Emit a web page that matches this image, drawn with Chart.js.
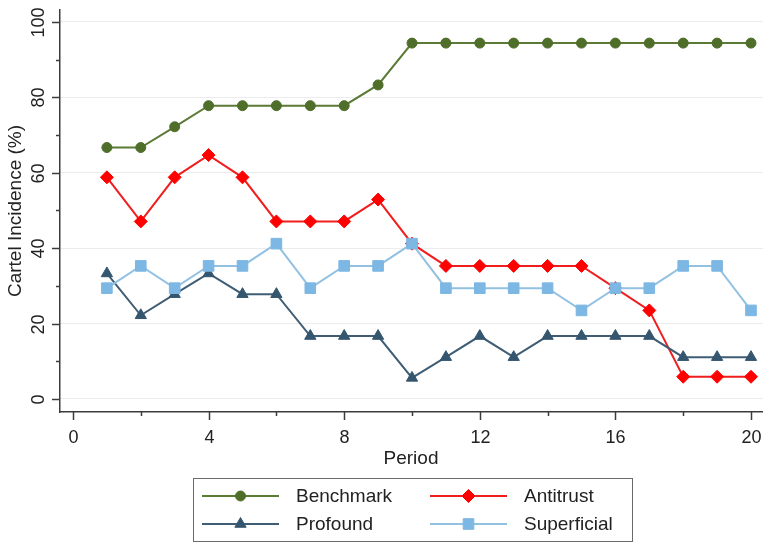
<!DOCTYPE html>
<html>
<head>
<meta charset="utf-8">
<script src="https://cdn.jsdelivr.net/npm/chart.js@4"></script>
<style>
  html, body { margin: 0; padding: 0; background: #fff; overflow: hidden; }
  canvas { display: block; }
</style>
</head>
<body>
<canvas id="cartelChart" width="763" height="544"></canvas>
<script>
const periods = [1, 2, 3, 4, 5, 6, 7, 8, 9, 10, 11, 12, 13, 14, 15, 16, 17, 18, 19, 20];
const benchmark = [66.7, 66.7, 72.2, 77.8, 77.8, 77.8, 77.8, 77.8, 83.3, 94.4, 94.4, 94.4, 94.4, 94.4, 94.4, 94.4, 94.4, 94.4, 94.4, 94.4];
const antitrust = [58.8, 47.1, 58.8, 64.7, 58.8, 47.1, 47.1, 47.1, 52.9, 41.2, 35.3, 35.3, 35.3, 35.3, 35.3, 29.4, 23.5, 5.9, 5.9, 5.9];
const profound = [33.3, 22.2, 27.8, 33.3, 27.8, 27.8, 16.7, 16.7, 16.7, 5.6, 11.1, 16.7, 11.1, 16.7, 16.7, 16.7, 16.7, 11.1, 11.1, 11.1];
const superficial = [29.4, 35.3, 29.4, 35.3, 35.3, 41.2, 29.4, 35.3, 35.3, 41.2, 29.4, 29.4, 29.4, 29.4, 23.5, 29.4, 29.4, 35.3, 35.3, 23.5];

const xTicks = [0, 2, 4, 6, 8, 10, 12, 14, 16, 18, 20]; // labels on multiples of 4
const yTicks = [0, 10, 20, 30, 40, 50, 60, 70, 80, 90, 100]; // labels on multiples of 20

const FONT = "'Liberation Sans', Arial, sans-serif";
const AXIS = "#3c3c3c";

function pts(vals) {
  return vals.map((v, i) => ({ x: periods[i], y: v }));
}

function series(label, vals, color, lineColor, style, radius, order) {
  return {
    label: label,
    data: pts(vals),
    borderColor: lineColor,
    backgroundColor: color,
    borderWidth: 2,
    pointStyle: style,
    pointRadius: radius,
    pointBackgroundColor: color,
    pointBorderColor: color,
    pointBorderWidth: 1,
    tension: 0,
    order: order,
  };
}

// tick marks, tick labels, axis titles and the boxed legend
const stataBits = {
  id: "stataBits",
  afterDraw(chart) {
    const ctx = chart.ctx;
    const xs = chart.scales.x;
    const ys = chart.scales.y;
    const area = chart.chartArea;
    ctx.save();
    ctx.strokeStyle = AXIS;
    ctx.lineWidth = 1.5;
    ctx.fillStyle = "#222";
    ctx.font = "18px " + FONT;

    yTicks.forEach((v) => {
      const py = Math.round(ys.getPixelForValue(v)) + 0.5;
      const major = v % 20 === 0;
      ctx.beginPath();
      ctx.moveTo(area.left - (major ? 8 : 4), py);
      ctx.lineTo(area.left, py);
      ctx.stroke();
      if (major) {
        ctx.save();
        ctx.translate(44, py);
        ctx.rotate(-Math.PI / 2);
        ctx.textAlign = "center";
        ctx.textBaseline = "alphabetic";
        ctx.fillText(String(v), 0, 0);
        ctx.restore();
      }
    });

    xTicks.forEach((v) => {
      const px = Math.round(xs.getPixelForValue(v)) + 0.5;
      const major = v % 4 === 0;
      ctx.beginPath();
      ctx.moveTo(px, area.bottom);
      ctx.lineTo(px, area.bottom + (major ? 8 : 4));
      ctx.stroke();
      if (major) {
        ctx.textAlign = "center";
        ctx.textBaseline = "alphabetic";
        ctx.fillText(String(v), px, 443);
      }
    });

    // axis titles
    ctx.font = "19px " + FONT;
    ctx.textAlign = "center";
    ctx.textBaseline = "alphabetic";
    ctx.fillText("Period", 411, 464);
    ctx.save();
    ctx.translate(21, (area.top + area.bottom) / 2);
    ctx.rotate(-Math.PI / 2);
    ctx.fillText("Cartel Incidence (%)", 0, 0);
    ctx.restore();

    // legend box
    ctx.strokeStyle = "#6a6a6a";
    ctx.lineWidth = 1;
    ctx.strokeRect(193.5, 478.5, 439, 63);

    const slots = [
      { x: 202, y: 496 },
      { x: 430, y: 496 },
      { x: 202, y: 524 },
      { x: 430, y: 524 },
    ];
    ctx.font = "19px " + FONT;
    ctx.textAlign = "left";
    ctx.textBaseline = "middle";
    chart.data.datasets.forEach((ds, i) => {
      const s = slots[i];
      ctx.strokeStyle = ds.borderColor;
      ctx.lineWidth = 2;
      ctx.beginPath();
      ctx.moveTo(s.x, s.y);
      ctx.lineTo(s.x + 77, s.y);
      ctx.stroke();
      ctx.fillStyle = ds.pointBackgroundColor;
      ctx.strokeStyle = ds.pointBorderColor;
      ctx.lineWidth = 1;
      Chart.helpers.drawPoint(ctx, {
        pointStyle: ds.pointStyle,
        radius: ds.pointRadius,
        rotation: 0,
        borderWidth: 1,
      }, s.x + 38.5, s.y);
      ctx.fillStyle = "#222";
      ctx.fillText(ds.label, s.x + 94, s.y + 1);
    });
    ctx.restore();
  },
};

const ctx = document.getElementById("cartelChart").getContext("2d");
const chart = new Chart(ctx, {
  type: "line",
  data: {
    datasets: [
      series("Benchmark", benchmark, "#4f6e2a", "#5b7a35", "circle", 5, 3),
      series("Antitrust", antitrust, "#ff0000", "#f01e1e", "rectRot", 6.5, 2),
      series("Profound", profound, "#34566f", "#3f5d74", "triangle", 6.5, 1),
      series("Superficial", superficial, "#7db7e3", "#93c1e2", "rect", 7.5, 0),
    ],
  },
  options: {
    responsive: false,
    animation: false,
    layout: {
      autoPadding: false,
      padding: { left: 0, top: 10, right: 0, bottom: 76 },
    },
    plugins: {
      legend: { display: false },
      tooltip: { enabled: false },
    },
    scales: {
      x: {
        type: "linear",
        min: -0.383,
        max: 20.354,
        afterBuildTicks: (s) => { s.ticks = xTicks.map((v) => ({ value: v })); },
        afterFit: (s) => {
          s.height = 56;
          s.paddingLeft = 0;
          s.paddingRight = 0;
        },
        ticks: { display: false },
        grid: { display: false, drawTicks: false },
        border: { display: true, color: AXIS, width: 1.5 },
      },
      y: {
        min: -3.45,
        max: 103.18,
        afterBuildTicks: (s) => { s.ticks = yTicks.map((v) => ({ value: v })); },
        afterFit: (s) => {
          s.width = 60;
          s.paddingTop = 0;
          s.paddingBottom = 0;
        },
        ticks: { display: false },
        grid: {
          drawTicks: false,
          lineWidth: 1,
          color: (c) => (c.tick && c.tick.value % 20 === 0 ? "#ececec" : "rgba(0,0,0,0)"),
        },
        border: { display: true, color: AXIS, width: 1.5 },
      },
    },
  },
  plugins: [stataBits],
});
</script>
</body>
</html>
